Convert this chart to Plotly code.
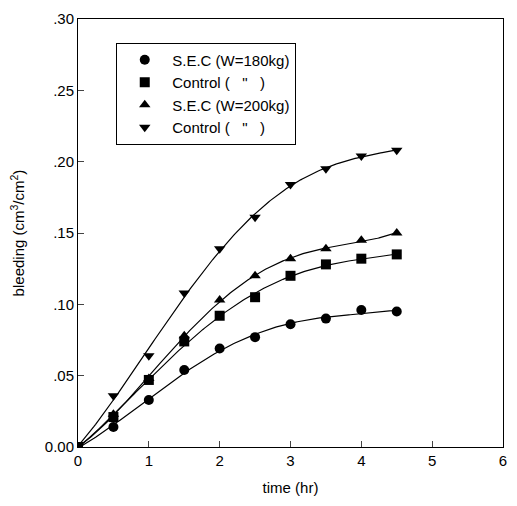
import numpy as np
import plotly.graph_objects as go

# Elapsed time (hr)
time_hr = [0, 0.5, 1.0, 1.5, 2.0, 2.5, 3.0, 3.5, 4.0, 4.5]

# Bleeding (cm3/cm2) per mix
sec_180 = [0.0, 0.014, 0.033, 0.054, 0.069, 0.077, 0.086, 0.090, 0.096, 0.095]
ctrl_180 = [0.0, 0.021, 0.047, 0.074, 0.092, 0.105, 0.120, 0.128, 0.132, 0.135]
sec_200 = [0.0, 0.023, 0.048, 0.078, 0.103, 0.120, 0.132, 0.139, 0.145, 0.150]
ctrl_200 = [0.0, 0.036, 0.064, 0.108, 0.139, 0.161, 0.184, 0.195, 0.204, 0.208]

series_names = ["S.E.C (W=180kg)", "Control (   \"   )", "S.E.C (W=200kg)", "Control (   \"   )"]
series_values = [sec_180, ctrl_180, sec_200, ctrl_200]
symbols = ["circle", "square", "triangle-up", "triangle-down"]

y_ticks = [0.0, 0.05, 0.10, 0.15, 0.20, 0.25, 0.30]
y_tick_text = ["0.00", ".05", ".10", ".15", ".20", ".25", ".30"]
x_ticks = [0, 1, 2, 3, 4, 5, 6]

fig = go.Figure()

# Fitted trend curves (quartic least squares), kept out of the legend
t_fine = np.linspace(min(time_hr), max(time_hr), 200)
for vals in series_values:
    coef = np.polyfit(time_hr, vals, 4)
    fig.add_trace(go.Scatter(
        x=t_fine, y=np.polyval(coef, t_fine), mode="lines",
        line=dict(color="black", width=1.2),
        showlegend=False, hoverinfo="skip",
    ))

# Measured points, which also form the legend entries
for name, vals, sym in zip(series_names, series_values, symbols):
    fig.add_trace(go.Scatter(
        x=time_hr, y=vals, mode="markers", name=name,
        marker=dict(symbol=sym, size=10, color="black"),
    ))

family = "Liberation Sans, Arial, sans-serif"
tick_font = dict(family=family, size=15, color="black")
title_font = dict(family=family, size=15, color="black")

fig.update_layout(
    width=517, height=506,
    margin=dict(l=78, r=10, t=14, b=59),
    plot_bgcolor="white", paper_bgcolor="white",
    font=dict(family=family, size=14, color="black"),
    legend=dict(
        x=0.09, y=0.945, xanchor="left", yanchor="top",
        bordercolor="black", borderwidth=1, bgcolor="white",
        font=dict(family=family, size=15), itemwidth=45,
        tracegroupgap=0, entrywidth=150, entrywidthmode="pixels",
    ),
    xaxis=dict(
        range=[0, 6], tickvals=x_ticks, ticks="inside", ticklen=6,
        showline=True, linecolor="black", linewidth=1, mirror=True,
        showgrid=False, zeroline=False, tickfont=tick_font,
        title=dict(text="time (hr)", font=title_font, standoff=14),
    ),
    yaxis=dict(
        range=[0, 0.30], tickvals=y_ticks, ticktext=y_tick_text,
        ticks="inside", ticklen=6,
        showline=True, linecolor="black", linewidth=1, mirror=True,
        showgrid=False, zeroline=False, tickfont=tick_font,
        title=dict(text="bleeding (cm<sup>3</sup>/cm<sup>2</sup>)", font=title_font, standoff=16),
    ),
)

fig.write_html("out.html")
